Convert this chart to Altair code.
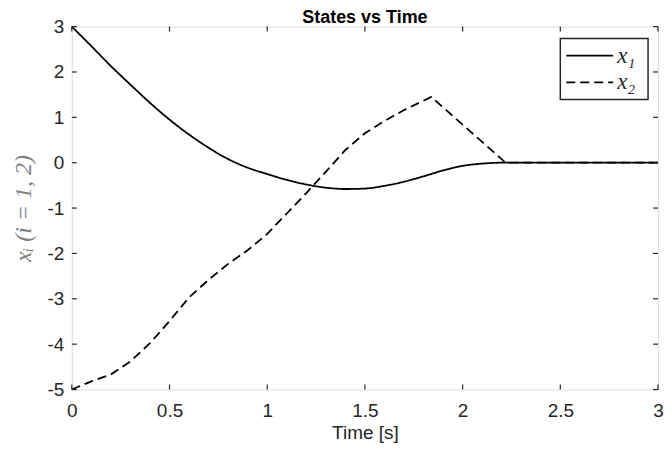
import altair as alt
import pandas as pd

# ---- data ----
t1 = [0, 0.1, 0.2, 0.3, 0.4, 0.5, 0.6, 0.7, 0.8, 0.9, 1.0, 1.1, 1.2, 1.3, 1.4,
      1.5, 1.6, 1.7, 1.8, 1.9, 2.0, 2.1, 2.2, 2.5, 3.0]
x1 = [3.0, 2.57, 2.13, 1.72, 1.32, 0.95, 0.62, 0.33, 0.08, -0.11, -0.25, -0.38,
      -0.48, -0.55, -0.58, -0.57, -0.51, -0.42, -0.30, -0.17, -0.07, -0.02, 0.0, 0.0, 0.0]

t2 = [0, 0.1, 0.2, 0.3, 0.4, 0.5, 0.6, 0.7, 0.8, 0.9, 1.0, 1.1, 1.2, 1.3, 1.4,
      1.5, 1.6, 1.7, 1.84, 2.22, 2.5, 3.0]
x2 = [-5.0, -4.82, -4.67, -4.38, -3.98, -3.49, -2.97, -2.58, -2.23, -1.93, -1.57,
      -1.12, -0.67, -0.20, 0.28, 0.65, 0.92, 1.16, 1.45, 0.0, 0.0, 0.0]

xticks = [0, 0.5, 1, 1.5, 2, 2.5, 3]
yticks = [-5, -4, -3, -2, -1, 0, 1, 2, 3]
names = ["x₁", "x₂"]

df1 = pd.DataFrame({"t": t1, "v": x1, "s": names[0]})
df2 = pd.DataFrame({"t": t2, "v": x2, "s": names[1]})
dfx = pd.DataFrame({"t": xticks})
dfy = pd.DataFrame({"v": yticks})
dfl = pd.DataFrame({"s": names})
dfbox = pd.DataFrame({"s": ["box"]})

W, H = 588, 364
INK = "#262626"
TL = 5

xs = alt.Scale(domain=[0, 3], nice=False, zero=False)
ys = alt.Scale(domain=[-5, 3], nice=False, zero=False)
dash_scale = alt.Scale(domain=names, range=[[1, 0], [9, 5]])
leg_y = alt.Scale(type="point", domain=names, range=[29, 56], padding=0)

xaxis = alt.Axis(values=xticks, ticks=False, domain=False, grid=False,
                 labelExpr="datum.value + ''", labelFont="Liberation Sans",
                 labelFontSize=19, labelColor=INK, labelPadding=12,
                 labelFlush=False, labelBound=False,
                 title="Time [s]", titleFont="Liberation Sans", titleFontSize=19,
                 titleFontWeight="normal", titleColor=INK, titlePadding=3)
yaxis = alt.Axis(values=yticks, ticks=False, domain=False, grid=False,
                 labelExpr="datum.value + ''", labelFont="Liberation Sans",
                 labelFontSize=19, labelColor=INK, labelPadding=8,
                 labelFlush=False, labelBound=False,
                 title="xᵢ (i = 1, 2)", titleFont="Liberation Serif",
                 titleFontStyle="italic", titleFontSize=24, titleFontWeight="normal",
                 titleColor="#808080", titlePadding=12)

line2 = alt.Chart(df2).mark_line(color="black", strokeWidth=1.8).encode(
    x=alt.X("t:Q", scale=xs, axis=xaxis), y=alt.Y("v:Q", scale=ys, axis=yaxis),
    strokeDash=alt.StrokeDash("s:N", scale=dash_scale, legend=None))
line1 = alt.Chart(df1).mark_line(color="black", strokeWidth=1.8,
                                 interpolate="monotone").encode(
    x=alt.X("t:Q", scale=xs), y=alt.Y("v:Q", scale=ys),
    strokeDash=alt.StrokeDash("s:N", scale=dash_scale, legend=None))

tick_b = alt.Chart(dfx).mark_rule(color=INK, strokeWidth=1.2).encode(
    x=alt.X("t:Q", scale=xs), y=alt.value(H), y2=alt.value(H - TL))
tick_t = alt.Chart(dfx).mark_rule(color=INK, strokeWidth=1.2).encode(
    x=alt.X("t:Q", scale=xs), y=alt.value(0), y2=alt.value(TL))
tick_l = alt.Chart(dfy).mark_rule(color=INK, strokeWidth=1.2).encode(
    y=alt.Y("v:Q", scale=ys), x=alt.value(0), x2=alt.value(TL))
tick_r = alt.Chart(dfy).mark_rule(color=INK, strokeWidth=1.2).encode(
    y=alt.Y("v:Q", scale=ys), x=alt.value(W), x2=alt.value(W - TL))

main = alt.layer(line2, line1, tick_b, tick_t, tick_l, tick_r)

# legend (drawn as marks, top-right inside the axes)
leg_box = alt.Chart(dfbox).mark_rect(fill="white", stroke=INK, strokeWidth=1.5).encode(
    x=alt.value(490), x2=alt.value(578), y=alt.value(12), y2=alt.value(73))
leg_line = alt.Chart(dfl).mark_rule(color="black", strokeWidth=1.8).encode(
    y=alt.Y("s:N", scale=leg_y, axis=None),
    x=alt.value(496), x2=alt.value(543),
    strokeDash=alt.StrokeDash("s:N", scale=dash_scale, legend=None))
leg_text = alt.Chart(dfl).mark_text(
    align="left", baseline="middle", font="Liberation Serif", fontStyle="italic",
    fontSize=23, color=INK).encode(
    y=alt.Y("s:N", scale=leg_y, axis=None), x=alt.value(547), text="s:N")
legend = alt.layer(leg_box, leg_line, leg_text)

chart = alt.layer(main, legend).resolve_scale(y="independent").properties(
    width=W, height=H,
    title=alt.TitleParams("States vs Time", font="Liberation Sans", fontSize=18,
                          fontWeight="bold", color="black", anchor="middle",
                          offset=4, dy=13),
    autosize=alt.AutoSizeParams(type="none"),
    padding={"left": 64, "top": 18, "right": 6, "bottom": 57},
).configure_view(stroke=INK, strokeWidth=1.6).configure(background="white")

chart.save("out.html", embed_options={"renderer": "svg", "actions": False})
